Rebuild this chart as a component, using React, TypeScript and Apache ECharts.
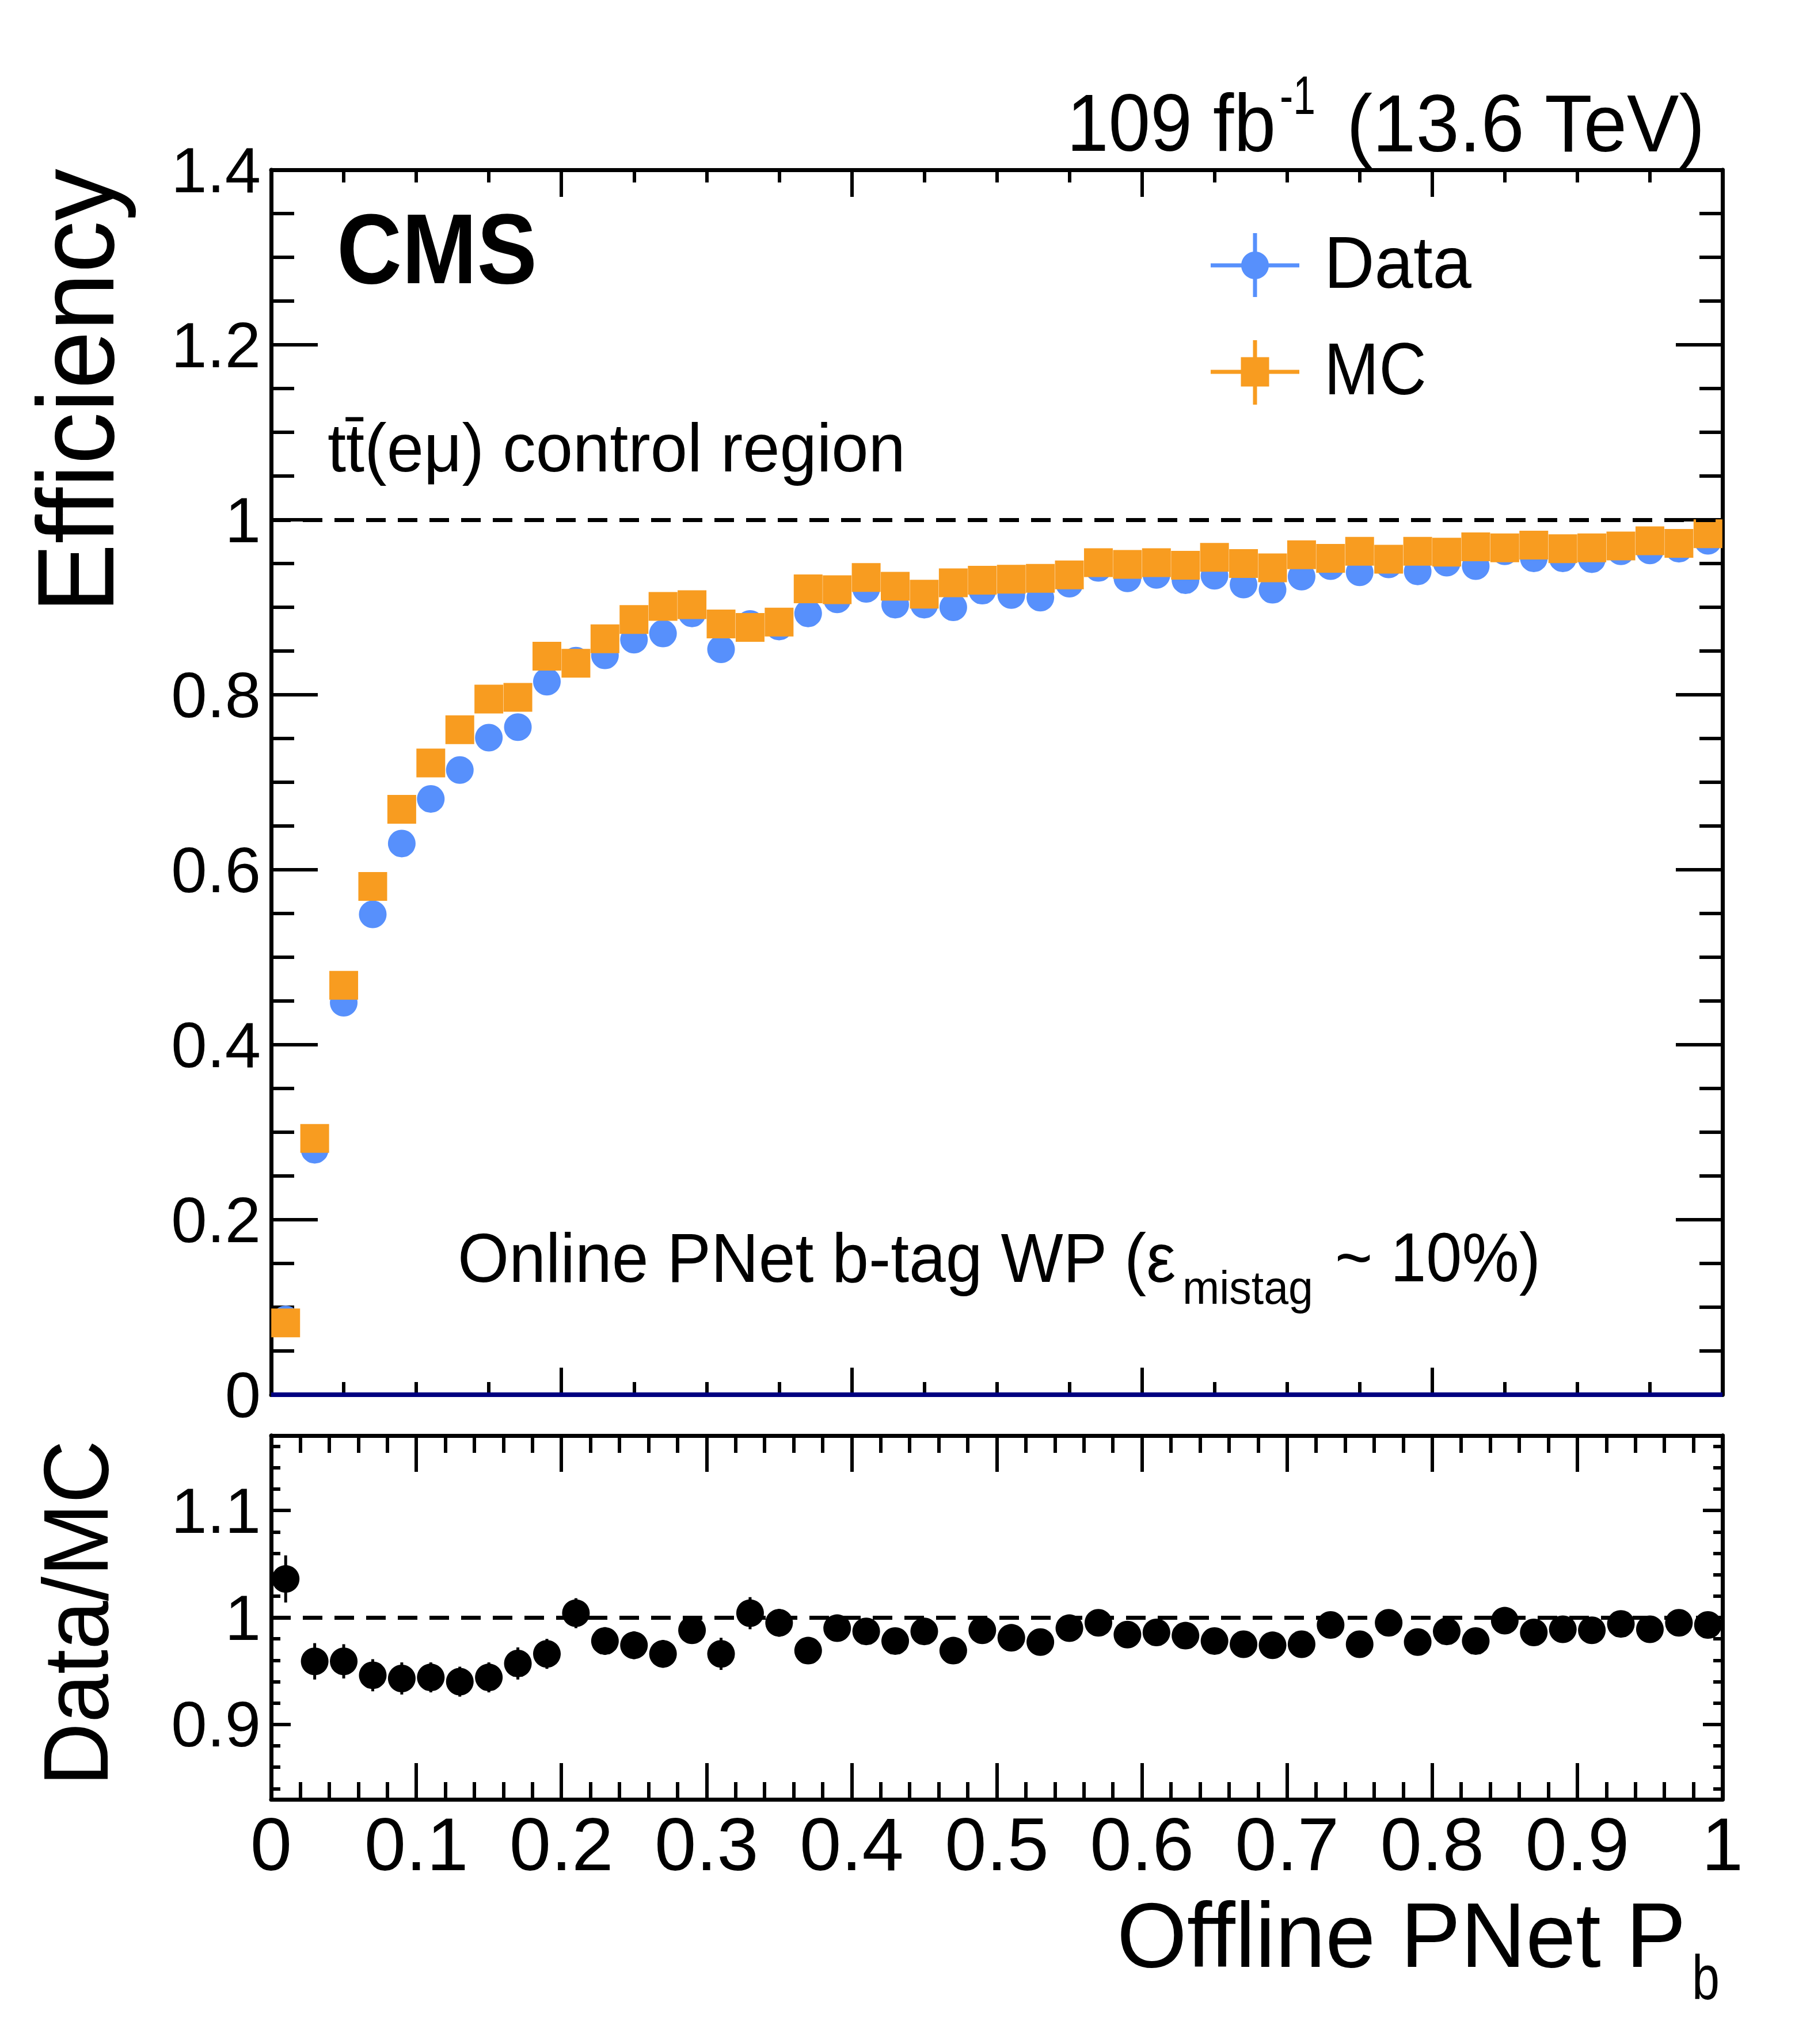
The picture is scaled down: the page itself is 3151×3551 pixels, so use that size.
import { useEffect, useRef } from "react";
import * as echarts from "echarts";

const binCenters = [
  0.01, 0.03, 0.05, 0.07, 0.09, 0.11, 0.13, 0.15, 0.17, 0.19,
  0.21, 0.23, 0.25, 0.27, 0.29, 0.31, 0.33, 0.35, 0.37, 0.39,
  0.41, 0.43, 0.45, 0.47, 0.49, 0.51, 0.53, 0.55, 0.57, 0.59,
  0.61, 0.63, 0.65, 0.67, 0.69, 0.71, 0.73, 0.75, 0.77, 0.79,
  0.81, 0.83, 0.85, 0.87, 0.89, 0.91, 0.93, 0.95, 0.97, 0.99,
];

const dataEff = [
  0.086, 0.28, 0.448, 0.549, 0.63, 0.681, 0.714, 0.751, 0.763, 0.815,
  0.839, 0.845, 0.863, 0.87, 0.893, 0.852, 0.881, 0.878, 0.893, 0.909,
  0.921, 0.903, 0.903, 0.9, 0.919, 0.914, 0.911, 0.927, 0.945, 0.933,
  0.937, 0.931, 0.936, 0.926, 0.92, 0.935, 0.947, 0.94, 0.949, 0.941,
  0.951, 0.947, 0.964, 0.956, 0.956, 0.955, 0.964, 0.965, 0.967, 0.976,
];

const mcEff = [
  0.082, 0.293, 0.468, 0.581, 0.669, 0.722, 0.76, 0.795, 0.797, 0.844,
  0.836, 0.864, 0.886, 0.901, 0.903, 0.881, 0.877, 0.883, 0.921, 0.92,
  0.934, 0.924, 0.915, 0.928, 0.931, 0.932, 0.933, 0.937, 0.951, 0.949,
  0.951, 0.948, 0.957, 0.95, 0.945, 0.96, 0.956, 0.964, 0.955, 0.964,
  0.963, 0.969, 0.968, 0.971, 0.967, 0.968, 0.97, 0.976, 0.973, 0.984,
];

const ratio = [
  1.036, 0.959, 0.959, 0.946, 0.943, 0.944, 0.94, 0.944, 0.957, 0.966,
  1.004, 0.978, 0.974, 0.966, 0.988, 0.966, 1.004, 0.995, 0.969, 0.99,
  0.987, 0.978, 0.987, 0.969, 0.988, 0.981, 0.977, 0.99, 0.995, 0.984,
  0.986, 0.983, 0.978, 0.975, 0.974, 0.975, 0.993, 0.975, 0.995, 0.977,
  0.987, 0.978, 0.997, 0.986, 0.989, 0.988, 0.994, 0.989, 0.995, 0.993,
];

const ratioErr = [
  0.022, 0.017, 0.016, 0.015, 0.015, 0.014, 0.014, 0.014, 0.015, 0.014,
  0.014, 0.013, 0.013, 0.013, 0.012, 0.015, 0.015, 0.013, 0.012, 0.012,
  0.012, 0.012, 0.012, 0.012, 0.012, 0.012, 0.012, 0.012, 0.012, 0.011,
  0.011, 0.011, 0.011, 0.011, 0.011, 0.011, 0.011, 0.011, 0.011, 0.011,
  0.011, 0.011, 0.011, 0.011, 0.011, 0.011, 0.011, 0.011, 0.011, 0.011,
];

const ratioMajorTicks = [0.9, 1, 1.1];
const ratioMinorTicks = [
  0.84, 0.86, 0.88, 0.92, 0.94, 0.96, 0.98, 1.02, 1.04, 1.06, 1.08, 1.12, 1.14, 1.16,
];

const FONT = "Liberation Sans";
const BLUE = "#5790fc";
const ORANGE = "#f89c20";
const NAVY = "#000080";

type Ctx = CanvasRenderingContext2D;

function measure(ctx: Ctx, text: string, size: number, weight = "normal") {
  ctx.font = `${weight} ${size}px "${FONT}"`;
  return ctx.measureText(text).width;
}

// horizontal text fitted between left and right, placed on a baseline
function fitText(ctx: Ctx, text: string, left: number, right: number, baseline: number, size: number, weight = "normal") {
  const w = measure(ctx, text, size, weight);
  return {
    type: "text",
    x: left,
    y: baseline - 0.35 * size,
    scaleX: (right - left) / w,
    silent: true,
    style: {
      text,
      fontSize: size,
      fontFamily: FONT,
      fontWeight: weight,
      fill: "#000",
      align: "left",
      verticalAlign: "middle",
    },
  };
}

// rotated axis title, reading bottom to top, right end at top
function vertText(ctx: Ctx, text: string, baselineX: number, top: number, bottom: number, size: number) {
  const w = measure(ctx, text, size);
  return {
    type: "text",
    x: baselineX - 0.35 * size,
    y: top,
    rotation: Math.PI / 2,
    scaleX: (bottom - top) / w,
    silent: true,
    style: {
      text,
      fontSize: size,
      fontFamily: FONT,
      fill: "#000",
      align: "right",
      verticalAlign: "middle",
    },
  };
}

function legendCross(cx: number, cy: number, top: number, bottom: number, color: string) {
  return [
    { type: "line", silent: true, shape: { x1: cx - 77, y1: cy, x2: cx + 77, y2: cy }, style: { stroke: color, lineWidth: 7 } },
    { type: "line", silent: true, shape: { x1: cx, y1: top, x2: cx, y2: bottom }, style: { stroke: color, lineWidth: 7 } },
  ];
}

const tickStyle = { color: "#000", width: 6 };
const frameLine = () => ({ show: true, onZero: false, lineStyle: { color: "#000", width: 7 } });
const dashStyle = { color: "#000", width: 7, type: [34, 21] };

export default function App() {
  const chartRef = useRef<HTMLDivElement>(null);

  useEffect(() => {
    if (!chartRef.current) return;
    const chart = echarts.init(chartRef.current, null, { renderer: "svg" });
    const ctx = document.createElement("canvas").getContext("2d") as Ctx;

    const topX = (position: string) => ({
      type: "value",
      gridIndex: 0,
      position,
      min: 0,
      max: 1,
      interval: 0.2,
      axisLine: frameLine(),
      axisTick: { show: true, inside: true, length: 47, lineStyle: tickStyle },
      minorTick: { show: true, splitNumber: 4, length: 22, lineStyle: tickStyle },
      axisLabel: { show: false },
      splitLine: { show: false },
    });

    const topY = (position: string, labels: boolean) => ({
      type: "value",
      gridIndex: 0,
      position,
      min: 0,
      max: 1.4,
      interval: 0.2,
      axisLine: frameLine(),
      axisTick: { show: true, inside: true, length: 81, lineStyle: tickStyle },
      minorTick: { show: true, splitNumber: 4, length: 40, lineStyle: tickStyle },
      axisLabel: {
        show: labels,
        fontSize: 112,
        fontFamily: FONT,
        color: "#000",
        margin: 18,
        showMinLabel: true,
        showMaxLabel: true,
      },
      splitLine: { show: false },
    });

    const botX = (position: string, labels: boolean) => ({
      type: "value",
      gridIndex: 1,
      position,
      min: 0,
      max: 1,
      interval: 0.1,
      axisLine: frameLine(),
      axisTick: { show: true, inside: true, length: 63, lineStyle: tickStyle },
      minorTick: { show: true, splitNumber: 5, length: 30, lineStyle: tickStyle },
      axisLabel: {
        show: labels,
        fontSize: 130,
        fontFamily: FONT,
        color: "#000",
        margin: 13,
        showMinLabel: true,
        showMaxLabel: true,
      },
      splitLine: { show: false },
    });

    const botY = (position: string, ticks: number[], length: number, labels: boolean) => ({
      type: "value",
      gridIndex: 1,
      position,
      min: 0.83,
      max: 1.17,
      axisLine: frameLine(),
      axisTick: { show: true, inside: true, length, customValues: ticks, lineStyle: tickStyle },
      axisLabel: {
        show: labels,
        customValues: ratioMajorTicks,
        fontSize: 112,
        fontFamily: FONT,
        color: "#000",
        margin: 18,
      },
      splitLine: { show: false },
    });

    const graphics: any[] = [
      fitText(ctx, "109 fb", 1853, 2216, 263, 141),
      fitText(ctx, "-1", 2223, 2285, 199, 95),
      fitText(ctx, "(13.6 TeV)", 2339, 2964, 263, 141),
      fitText(ctx, "CMS", 585, 933, 493, 172, "bold"),
      fitText(ctx, "tt\u0304(e\u03bc) control region", 569, 1573, 819, 118),
      fitText(ctx, "Online PNet b-tag WP (\u03b5", 795, 2045, 2227, 121),
      fitText(ctx, "mistag", 2054, 2281, 2265, 82),
      fitText(ctx, "~ 10%)", 2319, 2676, 2227, 121),
      ...legendCross(2180, 461, 405, 516, BLUE),
      { type: "circle", silent: true, shape: { cx: 2180, cy: 461, r: 24 }, style: { fill: BLUE } },
      ...legendCross(2180, 646, 591, 703, ORANGE),
      { type: "rect", silent: true, shape: { x: 2155.5, y: 620.5, width: 49, height: 51 }, style: { fill: ORANGE } },
      fitText(ctx, "Data", 2300, 2556, 500, 128),
      fitText(ctx, "MC", 2300, 2478, 686, 128),
      fitText(ctx, "Offline PNet P", 1940, 2929, 3418, 160),
      fitText(ctx, "b", 2939, 2987, 3473, 110),
      vertText(ctx, "Efficiency", 197, 293, 1065, 190),
      vertText(ctx, "Data/MC", 188, 2502, 3103, 160),
    ];

    chart.setOption({
      animation: false,
      backgroundColor: "#fff",
      grid: [
        { left: 471, top: 295, width: 2521, height: 2128 },
        { left: 471, top: 2494, width: 2521, height: 632 },
      ],
      xAxis: [
        topX("bottom"),
        topX("top"),
        botX("bottom", true),
        botX("top", false),
      ],
      yAxis: [
        topY("left", true),
        topY("right", false),
        botY("left", ratioMajorTicks, 34, true),
        botY("left", ratioMinorTicks, 16, false),
        botY("right", ratioMajorTicks, 34, false),
        botY("right", ratioMinorTicks, 16, false),
      ],
      series: [
        {
          name: "Data",
          type: "scatter",
          xAxisIndex: 0,
          yAxisIndex: 0,
          silent: true,
          symbol: "circle",
          symbolSize: 48,
          itemStyle: { color: BLUE, opacity: 1 },
          data: binCenters.map((x, i) => [x, dataEff[i]]),
          z: 2,
        },
        {
          name: "MC",
          type: "scatter",
          xAxisIndex: 0,
          yAxisIndex: 0,
          silent: true,
          symbol: "rect",
          symbolSize: 50,
          itemStyle: { color: ORANGE, opacity: 1 },
          data: binCenters.map((x, i) => [x, mcEff[i]]),
          markLine: {
            silent: true,
            symbol: ["none", "none"],
            label: { show: false },
            z: 10,
            data: [
              { yAxis: 1, lineStyle: dashStyle },
              { yAxis: 0, lineStyle: { color: NAVY, width: 8, type: "solid" } },
            ],
          },
          z: 3,
        },
        {
          name: "RatioErr",
          type: "custom",
          xAxisIndex: 2,
          yAxisIndex: 2,
          silent: true,
          data: binCenters.map((x, i) => [x, ratio[i] - ratioErr[i], ratio[i] + ratioErr[i]]),
          encode: { x: 0, y: [1, 2] },
          renderItem: (_params: any, api: any) => {
            const lo = api.coord([api.value(0), api.value(1)]);
            const hi = api.coord([api.value(0), api.value(2)]);
            return {
              type: "line",
              shape: { x1: lo[0], y1: lo[1], x2: hi[0], y2: hi[1] },
              style: { stroke: "#000", lineWidth: 5 },
            };
          },
          z: 2,
        },
        {
          name: "Ratio",
          type: "scatter",
          xAxisIndex: 2,
          yAxisIndex: 2,
          silent: true,
          symbol: "circle",
          symbolSize: 48,
          itemStyle: { color: "#000", opacity: 1 },
          data: binCenters.map((x, i) => [x, ratio[i]]),
          markLine: {
            silent: true,
            symbol: ["none", "none"],
            label: { show: false },
            data: [{ yAxis: 1, lineStyle: dashStyle }],
          },
          z: 3,
        },
      ],
      graphic: { elements: graphics },
    });

    return () => {
      chart.dispose();
    };
  }, []);

  return (
    <div
      ref={chartRef}
      style={{ position: "fixed", left: 0, top: 0, width: 3151, height: 3551, background: "#fff" }}
    />
  );
}
